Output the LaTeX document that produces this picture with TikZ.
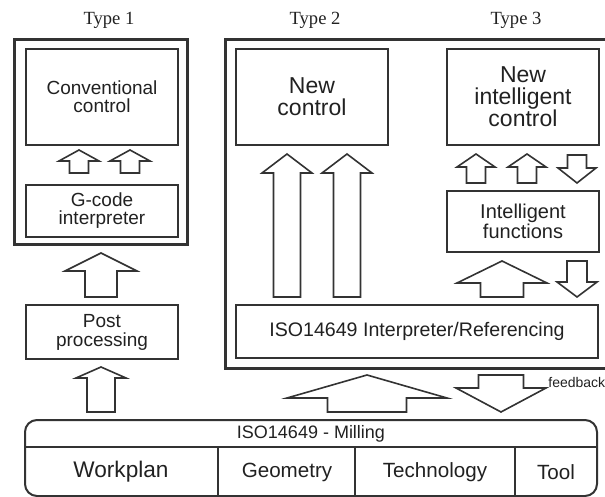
\documentclass[tikz,border=0pt]{standalone}
\usepackage{fontspec}
\setmainfont{Liberation Sans}
\newfontfamily\serifType{Liberation Serif}
\usetikzlibrary{positioning}
\definecolor{lineColor}{rgb}{0.2,0.2,0.2}
\definecolor{textColor}{rgb}{0.13,0.13,0.13}

% block arrows: centre x, foot y, tip y, half shaft, half head, head base y
\newcommand{\upBlock}[6]{%
  \draw[blockEdge] (#1-#4,#2) -- (#1-#4,#6) -- (#1-#5,#6) -- (#1,#3)
    -- (#1+#5,#6) -- (#1+#4,#6) -- (#1+#4,#2) -- cycle;}
\newcommand{\downBlock}[6]{%
  \draw[blockEdge] (#1-#4,#2) -- (#1-#4,#6) -- (#1-#5,#6) -- (#1,#3)
    -- (#1+#5,#6) -- (#1+#4,#6) -- (#1+#4,#2) -- cycle;}

\begin{document}
\begin{tikzpicture}[x=0.5pt,y=-0.5pt]

          \tikzstyle{normalBox} = [draw=lineColor, line width=1pt, text=textColor, align=center, inner sep=0pt];
          \tikzstyle{outerBox} = [draw=lineColor, line width=1.5pt, inner sep=0pt];
          \tikzstyle{blockEdge} = [draw=lineColor, line width=0.8pt, line join=miter, fill=white];
          \tikzstyle{typeLabel} = [text=textColor, font=\serifType\fontsize{9.3}{10}\selectfont];
          \tikzstyle{cellText} = [text=textColor, inner sep=0pt];

          \useasboundingbox (0,0) rectangle (605,497);

          % frames
          \node[outerBox, minimum width=86.5pt, minimum height=102.5pt] (typeOne) at (100.5,142.5) {};
          \node[outerBox, minimum width=193.5pt, minimum height=164pt] (typeTwoThree) at (418.5,204) {};

          \node[typeLabel] (labelOne) at (109,20) {Type 1};
          \node[typeLabel] (labelTwo) at (315,20) {Type 2};
          \node[typeLabel] (labelThree) at (516,20) {Type 3};

          % type 1
          \node[normalBox, minimum width=76pt, minimum height=48pt, font=\fontsize{9.5}{9}\selectfont] (conv) at (102,97) {Conventional\\control};
          \node[normalBox, minimum width=76pt, minimum height=26pt, font=\fontsize{9.5}{9}\selectfont] (gcode) at (102,211) {G-code\\interpreter};
          \node[normalBox, minimum width=76pt, minimum height=27pt, font=\fontsize{9.5}{9.5}\selectfont] (post) at (102,332) {Post\\processing};

          % type 2 and 3
          \node[normalBox, minimum width=76pt, minimum height=48pt, font=\fontsize{11.5}{11}\selectfont] (newCtrl) at (312,97) {New\\control};
          \node[normalBox, minimum width=76pt, minimum height=48pt, font=\fontsize{11.5}{11}\selectfont] (newIntel) at (523,97) {New\\intelligent\\control};
          \node[normalBox, minimum width=76pt, minimum height=30.5pt, font=\fontsize{10}{10}\selectfont] (intelFun) at (523,221.5) {Intelligent\\functions};
          \node[normalBox, minimum width=181pt, minimum height=26.5pt, font=\fontsize{9.8}{10}\selectfont] (interp) at (417,331.5) {ISO14649 Interpreter/Referencing};

          % data model
          \node[normalBox, rounded corners=6pt, minimum width=286pt, minimum height=38pt] (milling) at (311,458) {};
          \draw[draw=lineColor, line width=1pt] (25,447) -- (597,447);
          \draw[draw=lineColor, line width=1pt] (218,447) -- (218,496);
          \draw[draw=lineColor, line width=1pt] (355,447) -- (355,496);
          \draw[draw=lineColor, line width=1pt] (515,447) -- (515,496);
          \node[cellText, font=\fontsize{9}{9}\selectfont] (millTitle) at (311,434) {ISO14649 - Milling};
          \node[cellText, font=\fontsize{11.3}{11}\selectfont] (workplan) at (121,472) {Workplan};
          \node[cellText, font=\fontsize{10.3}{10}\selectfont] (geometry) at (287,472) {Geometry};
          \node[cellText, font=\fontsize{10.3}{10}\selectfont] (technology) at (435,472) {Technology};
          \node[cellText, font=\fontsize{10.3}{10}\selectfont] (tool) at (556,472) {Tool};
          \node[cellText, anchor=west, font=\fontsize{7}{7}\selectfont] (feedback) at (548,382) {feedback};

          % arrows type 1
          \upBlock{79}{173}{150}{9.5}{20}{161}
          \upBlock{130}{173}{150}{9.5}{20}{161}
          \upBlock{101}{297}{253}{16}{36}{271}
          \upBlock{101}{412}{367}{14}{25}{378}

          % arrows type 2
          \upBlock{287}{297}{154}{13.5}{25}{173}
          \upBlock{347}{297}{154}{13.5}{25}{173}

          % arrows type 3
          \upBlock{476}{183}{154}{9.5}{19}{167}
          \upBlock{527}{183}{154}{9.5}{19}{167}
          \downBlock{577}{155}{183}{9.5}{19}{168}
          \upBlock{502}{297}{261}{21.5}{45}{283}
          \downBlock{577}{261}{297}{10}{20}{282}

          % arrows to the data model
          \upBlock{367}{412}{375}{39.5}{80}{398}
          \downBlock{501}{375}{412}{22.5}{45}{388}

\end{tikzpicture}
\end{document}
